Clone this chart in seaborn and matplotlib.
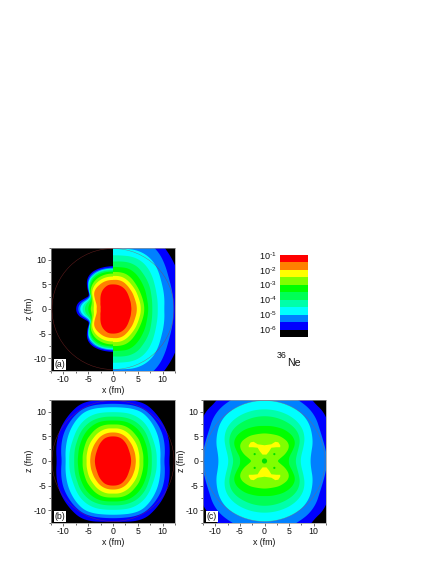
import numpy as np
import matplotlib
matplotlib.use("Agg")
import matplotlib.pyplot as plt
from matplotlib.colors import ListedColormap
from matplotlib.patches import Circle
import seaborn as sns

sns.set_style("white")
plt.rcParams['font.family'] = ['Liberation Sans', 'DejaVu Sans']
plt.rcParams['mathtext.default'] = 'regular'

BAND_COLORS = ["#ff0000", "#ff8000", "#ffff00", "#80ff00", "#00ff00", "#00ff55",
               "#00ffaa", "#00ffff", "#0080ff", "#0000ff", "#000000"]
COLORBAR_LABELS = [r"$10^{\text{-}1}$", r"$10^{\text{-}2}$", r"$10^{\text{-}3}$",
                   r"$10^{\text{-}4}$", r"$10^{\text{-}5}$", r"$10^{\text{-}6}$"]
MASS = "36"
NUCLEUS = "Ne"
TICKS = [-10, -5, 0, 5, 10]
ANGLES = np.arange(0, 91, 10)

# contour radii (fm) at angles 0..90 deg from +z, from red (inner) to blue (outer)
A_LEFT = [
    [5.0, 5.0, 4.7, 4.3, 3.8, 3.3, 2.9, 2.7, 2.5, 2.5],
    [5.9, 5.9, 5.8, 5.6, 5.4, 5.0, 4.2, 3.6, 3.3, 3.3],
    [6.6, 6.6, 6.5, 6.3, 6.0, 5.5, 4.7, 4.1, 3.9, 3.9],
    [7.2, 7.2, 7.1, 6.9, 6.5, 5.9, 5.0, 4.5, 4.4, 4.5],
    [7.6, 7.6, 7.6, 7.4, 6.9, 6.1, 5.0, 4.7, 4.9, 5.0],
    [7.9, 7.9, 7.9, 7.7, 7.2, 6.2, 5.0, 5.0, 5.5, 5.7],
    [8.1, 8.1, 8.1, 7.9, 7.4, 6.3, 5.1, 5.2, 5.9, 6.2],
    [8.2, 8.2, 8.2, 8.0, 7.6, 6.4, 5.2, 5.4, 6.3, 6.7],
    [8.4, 8.4, 8.4, 8.3, 7.8, 6.5, 5.3, 5.7, 6.7, 7.1],
    [8.7, 8.7, 8.7, 8.6, 8.1, 6.8, 5.4, 6.1, 7.2, 7.5],
]
A_RIGHT = [
    [5.0, 5.0, 4.9, 4.7, 4.4, 4.1, 3.9, 3.8, 3.7, 3.7],
    [5.9, 6.0, 5.9, 5.6, 5.3, 5.1, 4.9, 4.8, 4.8, 4.8],
    [6.7, 6.8, 6.7, 6.4, 6.1, 5.9, 5.7, 5.6, 5.6, 5.6],
    [7.5, 7.6, 7.6, 7.3, 6.9, 6.6, 6.4, 6.3, 6.3, 6.3],
    [8.5, 8.6, 8.8, 8.6, 8.2, 7.8, 7.5, 7.2, 7.1, 7.1],
    [9.6, 9.8, 10.0, 9.9, 9.4, 9.0, 8.6, 8.2, 8.0, 7.9],
    [10.9, 11.0, 11.3, 11.3, 10.9, 10.3, 9.7, 9.3, 9.1, 9.0],
    [12.2, 12.4, 12.8, 12.9, 12.6, 11.9, 11.2, 10.8, 10.5, 10.3],
    [14.5, 14.7, 15.0, 15.2, 14.6, 13.7, 12.9, 12.5, 12.3, 12.2],
    [17.0, 17.0, 17.0, 17.0, 16.2, 15.6, 15.0, 14.5, 14.5, 14.5],
]
B_LEVELS = [
    [5.0, 5.0, 4.9, 4.6, 4.3, 4.0, 3.8, 3.7, 3.65, 3.65],
    [5.8, 5.8, 5.7, 5.5, 5.2, 5.0, 4.8, 4.7, 4.6, 4.6],
    [6.6, 6.7, 6.6, 6.4, 6.1, 5.9, 5.7, 5.5, 5.4, 5.3],
    [7.4, 7.5, 7.5, 7.3, 7.0, 6.8, 6.5, 6.3, 6.2, 6.1],
    [8.2, 8.3, 8.4, 8.3, 8.1, 7.8, 7.5, 7.3, 7.1, 7.1],
    [9.0, 9.1, 9.2, 9.2, 9.0, 8.7, 8.3, 8.1, 7.9, 7.8],
    [9.9, 10.0, 10.2, 10.2, 10.0, 9.6, 9.2, 9.0, 8.9, 8.8],
    [10.9, 11.0, 11.3, 11.5, 11.2, 10.8, 10.4, 10.0, 9.7, 9.5],
    [11.6, 11.7, 12.0, 12.2, 12.0, 11.7, 11.4, 11.0, 10.6, 10.3],
    [12.3, 12.5, 13.0, 13.3, 13.0, 12.7, 12.4, 12.0, 11.6, 11.3],
]
C_LEVELS = [
    [5.6, 5.6, 5.7, 5.9, 6.0, 6.1, 5.8, 4.6, 3.2, 2.6],
    [7.1, 7.2, 7.3, 7.5, 7.6, 7.6, 7.2, 6.0, 5.1, 4.9],
    [9.1, 9.1, 9.1, 9.1, 9.1, 8.9, 8.3, 7.3, 6.6, 6.3],
    [10.5, 10.5, 10.5, 10.5, 10.4, 10.1, 9.4, 8.4, 7.6, 7.3],
    [12.3, 12.3, 12.3, 12.3, 12.2, 11.8, 11.1, 10.4, 9.6, 9.3],
    [14.5, 14.5, 14.3, 14.1, 14.0, 13.6, 12.9, 12.6, 12.6, 12.8],
    [17.0, 17.0, 17.0, 16.5, 15.5, 15.6, 15.0, 15.0, 15.0, 15.0],
]
C_LEVEL_COLORS = ["#80ff00", "#00ff00", "#00ff55", "#00ffaa", "#00ffff", "#0080ff", "#0000ff"]
# yellow lobe of panel (c), upper half, outline x/z in fm
LOBE_X = [-3.2, -2.8, -2.2, -1.4, 0.0, 1.4, 2.2, 2.8, 3.2, 3.2, 2.4, 1.4, 0.9, 0.4, -0.4, -0.9, -1.4, -2.4, -3.2]
LOBE_Z = [3.2, 3.8, 3.9, 3.4, 3.2, 3.4, 3.9, 3.8, 3.2, 2.8, 2.8, 2.7, 1.9, 1.3, 1.3, 1.9, 2.7, 2.8, 2.8]
DOT_X = [-2.0, 2.0, -2.0, 2.0, 0.0]
DOT_Z = [1.4, 1.4, -1.4, -1.4, 0.0]
DOT_SIZE = [2.5, 2.5, 2.5, 2.5, 14]


def profile(radii):
    """Outline of one contour for x>=0, rounded so that the read radii do not leave kinks."""
    deg = np.concatenate([ANGLES, 180 - ANGLES[-2::-1]])
    rad = np.concatenate([radii, radii[-2::-1]])
    fine = np.arange(0, 181, 2)
    r = np.interp(fine, deg, rad)
    pad = 2
    padded = np.r_[r[pad:0:-1], r, r[-2:-pad - 2:-1]]
    r = np.convolve(padded, np.ones(2 * pad + 1) / (2 * pad + 1), mode="valid")
    th = np.deg2rad(fine)
    return r * np.sin(th), r * np.cos(th)


def fill_half(ax, levels, colors, side):
    for radii, col in list(zip(levels, colors))[::-1]:
        x, z = profile(radii)
        ax.fill(np.r_[0, side * x, 0], np.r_[0, z, 0], color=col, lw=0, zorder=1)


def fill_full(ax, levels, colors):
    for radii, col in list(zip(levels, colors))[::-1]:
        x, z = profile(radii)
        ax.fill(np.r_[x, -x[::-1]], np.r_[z, z[::-1]], color=col, lw=0, zorder=1)


def setup(rect, label, circ):
    L, T, W, H = rect
    ax = fig.add_axes([L / 436, 1 - (T + H) / 564, W / 436, H / 564])
    ax.set_facecolor("black")
    ax.set_xlim(-12.4, 12.4)
    ax.set_ylim(-12.4, 12.4)
    ax.set_xticks(TICKS)
    ax.set_yticks(TICKS)
    ax.set_xticks(np.arange(-12.5, 12.6, 5), minor=True)
    ax.set_yticks(np.arange(-12.5, 12.6, 5), minor=True)
    ax.set_xticklabels([str(t) for t in TICKS])
    ax.set_yticklabels([str(t) for t in TICKS])
    ax.tick_params(which="major", length=2, width=0.5, labelsize=6.3, pad=1.5,
                   bottom=True, left=True, color="#333333", labelcolor="#111111")
    ax.tick_params(which="minor", length=1.2, width=0.5, bottom=True, left=True, color="#333333")
    ax.set_xlabel("x (fm)", fontsize=6.3, labelpad=1, color="#111111")
    ax.set_ylabel("z (fm)", fontsize=6.3, labelpad=-0.5, color="#111111")
    for s in ax.spines.values():
        s.set_linewidth(0.5)
        s.set_color("#999999")
    ax.add_patch(Circle((0, 0), 12.3, fill=False, lw=0.35, ec=circ, alpha=0.6, zorder=5))
    ax.text(-11.8, -11.3, label, fontsize=6.3, va="center", ha="left", color="#111111", zorder=6,
            bbox=dict(fc="white", ec="none", pad=0.6))
    return ax


fig = plt.figure(figsize=(4.36, 5.64), dpi=100)
BLUE_ORDER = BAND_COLORS[:10]

a = setup((51, 247.5, 124, 123), "(a)", "#aa3333")
fill_half(a, A_LEFT, BLUE_ORDER, -1)
fill_half(a, A_RIGHT, BLUE_ORDER, 1)

b = setup((51, 399.5, 124, 123), "(b)", "#aa3333")
fill_full(b, B_LEVELS, BLUE_ORDER)

c = setup((203, 399.5, 123, 123), "(c)", "#aa5555")
fill_full(c, C_LEVELS, C_LEVEL_COLORS)
for sign in (1, -1):
    c.fill(LOBE_X, sign * np.array(LOBE_Z), color="#ffff00", lw=0, zorder=2)
c.scatter(DOT_X, DOT_Z, s=DOT_SIZE, color="#00e000", lw=0, zorder=3)

cb = fig.add_axes([280 / 436, 1 - 337 / 564, 28 / 436, 82 / 564])
cmap = ListedColormap(BAND_COLORS)
sns.heatmap(np.arange(len(BAND_COLORS)).reshape(-1, 1), ax=cb, cmap=cmap, cbar=False,
            xticklabels=False, yticklabels=False)
for i, lab in enumerate(COLORBAR_LABELS):
    cb.text(-0.12, 2 * i + 0.1, lab, fontsize=6.5, ha="right", va="center", color="#111111",
            transform=cb.get_yaxis_transform())
fig.text(277 / 436, 1 - 356 / 564, MASS, fontsize=6.3, ha="left", va="center", color="#111111")
fig.text(287 / 436, 1 - 363 / 564, NUCLEUS, fontsize=7.6, ha="left", va="center", color="#111111")

fig.savefig("out.png", dpi=100)
